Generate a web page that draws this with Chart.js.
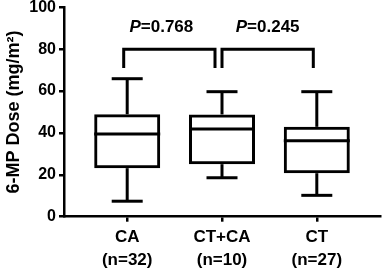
<!DOCTYPE html>
<html>
<head>
<meta charset="utf-8">
<script src="https://cdn.jsdelivr.net/npm/chart.js@4/dist/chart.umd.min.js"></script>
<style>
html,body{margin:0;padding:0;background:#fff;}
#wrap{width:383px;height:270px;}
</style>
</head>
<body>
<div id="wrap"><canvas id="c" width="383" height="270"></canvas></div>
<script>
// ---- data ----
const categories = ['CA', 'CT+CA', 'CT'];
const groupSizes = ['(n=32)', '(n=10)', '(n=27)'];
const whiskerMin = [7.4, 18.6, 10.2];
const q1 = [23.9, 25.8, 21.5];
const median = [39.5, 41.9, 36.3];
const q3 = [48.2, 48.1, 42.2];
const whiskerMax = [65.9, 59.7, 59.7];
const yTicks = [0, 20, 40, 60, 80, 100];
const compFrom = [0, 1];
const compTo = [1, 2];
const pValues = ['0.768', '0.245'];

const FONT = "'Liberation Sans', Arial, sans-serif";

const boxExtras = {
  id: 'boxExtras',
  afterDatasetsDraw(chart) {
    const {ctx, scales: {x, y}} = chart;
    ctx.save();
    ctx.strokeStyle = '#000';
    ctx.lineWidth = 3;
    ctx.lineCap = 'butt';
    ctx.lineJoin = 'miter';
    const seg = (x1, y1, x2, y2) => { ctx.beginPath(); ctx.moveTo(x1, y1); ctx.lineTo(x2, y2); ctx.stroke(); };
    categories.forEach((c, i) => {
      const cx = x.getPixelForValue(i);
      const boxHalf = 33, capHalf = 15.5;
      seg(cx, y.getPixelForValue(q3[i]) - 1.5, cx, y.getPixelForValue(whiskerMax[i]));
      seg(cx - capHalf, y.getPixelForValue(whiskerMax[i]), cx + capHalf, y.getPixelForValue(whiskerMax[i]));
      seg(cx, y.getPixelForValue(q1[i]) + 1.5, cx, y.getPixelForValue(whiskerMin[i]));
      seg(cx - capHalf, y.getPixelForValue(whiskerMin[i]), cx + capHalf, y.getPixelForValue(whiskerMin[i]));
      seg(cx - boxHalf, y.getPixelForValue(median[i]), cx + boxHalf, y.getPixelForValue(median[i]));
    });
    // significance brackets
    const yt = y.getPixelForValue(80), yb = y.getPixelForValue(71), yTxt = y.getPixelForValue(88.1);
    const startOff = [-3.5, 0], endOff = [-7, -3.5], txtOff = [-8, 0];
    compFrom.forEach((f, k) => {
      const xa = x.getPixelForValue(f) + startOff[k];
      const xb = x.getPixelForValue(compTo[k]) + endOff[k];
      ctx.beginPath();
      ctx.moveTo(xa, yb); ctx.lineTo(xa, yt); ctx.lineTo(xb, yt); ctx.lineTo(xb, yb);
      ctx.stroke();
      const mid = (xa + xb) / 2 + txtOff[k];
      const f1 = 'italic bold 17px ' + FONT, f2 = 'bold 17px ' + FONT;
      ctx.font = f1; const w1 = ctx.measureText('P').width;
      ctx.font = f2; const rest = '=' + pValues[k]; const w2 = ctx.measureText(rest).width;
      let sx = mid - (w1 + w2) / 2;
      ctx.fillStyle = '#000';
      ctx.textBaseline = 'alphabetic';
      ctx.textAlign = 'left';
      ctx.font = f1; ctx.fillText('P', sx, yTxt);
      ctx.font = f2; ctx.fillText(rest, sx + w1, yTxt);
    });
    ctx.restore();
  }
};

new Chart(document.getElementById('c'), {
  type: 'bar',
  data: {
    datasets: [{
      data: categories.map((c, i) => ({x: i, y: [q1[i], q3[i]]})),
      backgroundColor: '#fff',
      borderColor: '#000',
      borderWidth: 3,
      borderSkipped: false,
      barThickness: 63,
      inflateAmount: 1.5,
      grouped: false
    }]
  },
  options: {
    responsive: false,
    devicePixelRatio: 1,
    animation: false,
    layout: {padding: {top: 7.3, right: 3, left: 0, bottom: 0}},
    plugins: {legend: {display: false}, tooltip: {enabled: false}},
    scales: {
      x: {
        type: 'linear',
        offset: false,
        bounds: 'data',
        min: -2 / 3,
        max: 8 / 3,
        afterBuildTicks: s => { s.ticks = categories.map((c, i) => ({value: i})); },
        afterFit: s => { s.height = 53.3; s.paddingLeft = 0; s.paddingRight = 0; },
        ticks: {
          autoSkip: false,
          maxRotation: 0,
          padding: 5,
          color: '#000',
          font: {family: FONT, size: 17, weight: 'bold', lineHeight: 1.3},
          callback: v => (Number.isInteger(v) && v >= 0 && v < categories.length) ? [categories[v], groupSizes[v]] : ''
        },
        grid: {offset: false, drawOnChartArea: false, drawTicks: true, tickLength: 5, color: '#000', lineWidth: 2.5},
        border: {display: true, color: '#000', width: 2.5}
      },
      y: {
        min: 0,
        max: 100,
        afterBuildTicks: s => { s.ticks = yTicks.map(v => ({value: v})); },
        afterFit: s => { s.width = 64; s.paddingTop = 0; s.paddingBottom = 0; },
        ticks: {
          padding: 3,
          color: '#000',
          font: {family: FONT, size: 16, weight: 'bold'}
        },
        grid: {drawOnChartArea: false, drawTicks: true, tickLength: 5, color: '#000', lineWidth: 2.5},
        border: {display: true, color: '#000', width: 2.5},
        title: {
          display: true,
          text: '6-MP Dose (mg/m²)',
          color: '#000',
          font: {family: FONT, size: 18, weight: 'bold'},
          padding: {top: 3, bottom: 0}
        }
      }
    }
  },
  plugins: [boxExtras]
});
</script>
</body>
</html>
